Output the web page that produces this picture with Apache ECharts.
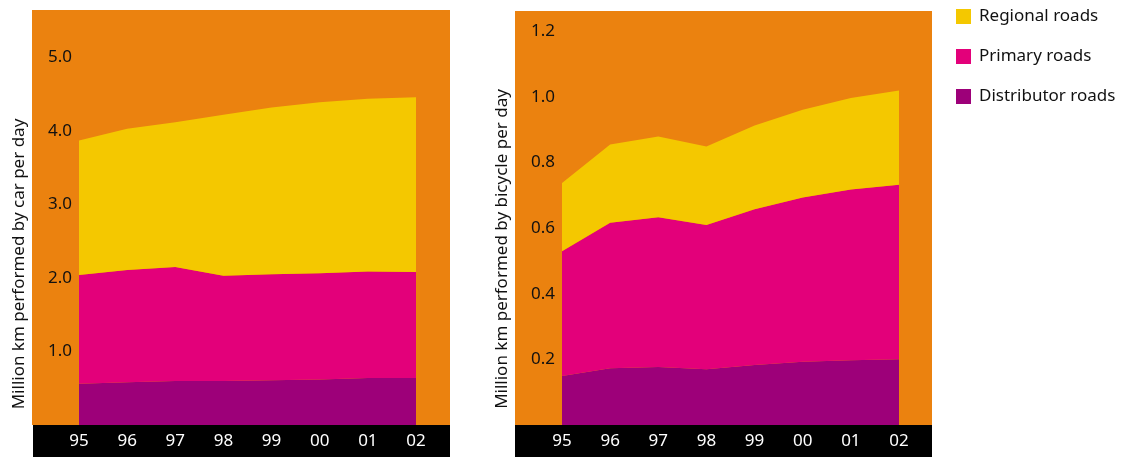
<!DOCTYPE html>
<html>
<head>
<meta charset="utf-8">
<script src="https://cdn.jsdelivr.net/npm/echarts@6/dist/echarts.min.js"></script>
<style>
  html, body { margin: 0; padding: 0; background: #fff; }
  #chart { width: 1132px; height: 457px; }
</style>
</head>
<body>
<div id="chart"></div>
<script>
// years on the x axis
const years = ['95', '96', '97', '98', '99', '00', '01', '02'];

// car (million km per day)
const carDistributor = [0.56, 0.58, 0.60, 0.60, 0.61, 0.62, 0.64, 0.64];
const carPrimary     = [1.48, 1.53, 1.55, 1.43, 1.44, 1.445, 1.45, 1.44];
const carRegional    = [1.83, 1.92, 1.97, 2.19, 2.27, 2.325, 2.35, 2.38];

// bicycle (million km per day)
const bikeDistributor = [0.149, 0.173, 0.177, 0.170, 0.183, 0.193, 0.197, 0.200];
const bikePrimary     = [0.380, 0.443, 0.456, 0.439, 0.474, 0.500, 0.520, 0.532];
const bikeRegional    = [0.208, 0.238, 0.246, 0.239, 0.255, 0.267, 0.279, 0.287];

const legendNames = ['Regional roads', 'Primary roads', 'Distributor roads'];

const ORANGE = '#EB820F';
const colors = {
  'Regional roads': '#F4C800',
  'Primary roads': '#E3007A',
  'Distributor roads': '#9D0079'
};
const FONT = 'Noto Sans';

var chartDom = document.getElementById('chart');
var myChart = echarts.init(chartDom);

function areaSeries(name, data, idx) {
  return {
    name: name,
    type: 'line',
    stack: 'total' + idx,
    xAxisIndex: idx,
    yAxisIndex: idx,
    data: data,
    showSymbol: false,
    symbol: 'none',
    color: colors[name],
    lineStyle: { width: 0 },
    areaStyle: { color: colors[name], opacity: 1 },
    silent: true
  };
}

function xAxisCfg(idx) {
  return {
    type: 'category',
    gridIndex: idx,
    data: years,
    boundaryGap: false,
    axisLine: { show: false },
    axisTick: { show: false },
    splitLine: { show: false },
    axisLabel: { color: '#fff', fontSize: 17, fontFamily: FONT, margin: 8 }
  };
}

function yAxisCfg(idx, max, interval, name, shift) {
  return {
    type: 'value',
    gridIndex: idx,
    min: 0,
    max: max,
    interval: interval,
    name: name,
    nameLocation: 'middle',
    nameGap: 51,
    nameTextStyle: { color: '#111', fontSize: 17, fontFamily: FONT, padding: [0, shift, 0, 0] },
    axisLine: { show: false },
    axisTick: { show: false },
    splitLine: { show: false },
    axisLabel: {
      color: '#111', fontSize: 17, fontFamily: FONT, margin: 7,
      formatter: function (v) {
        let k = Math.round(v / interval);
        if (k <= 0 || Math.abs(k * interval - v) > 1e-6) return '';
        return v.toFixed(1);
      }
    }
  };
}

var option = {
  backgroundColor: '#fff',
  animation: false,
  graphic: [
    { type: 'rect', z: -10, silent: true, shape: { x: 32, y: 10, width: 418, height: 415 }, style: { fill: ORANGE } },
    { type: 'rect', z: -10, silent: true, shape: { x: 33, y: 425, width: 417, height: 32 }, style: { fill: '#000' } },
    { type: 'rect', z: -10, silent: true, shape: { x: 515, y: 11, width: 417, height: 414 }, style: { fill: ORANGE } },
    { type: 'rect', z: -10, silent: true, shape: { x: 515, y: 425, width: 417, height: 32 }, style: { fill: '#000' } }
  ],
  legend: {
    data: legendNames,
    orient: 'vertical',
    left: 956,
    top: 8,
    padding: 0,
    itemWidth: 15,
    itemHeight: 15,
    itemGap: 23,
    icon: 'rect',
    selectedMode: false,
    textStyle: { color: '#111', fontSize: 17, fontFamily: FONT, padding: [0, 0, 0, 3] }
  },
  grid: [
    { left: 79, right: 1132 - 416, top: 10, bottom: 32 },
    { left: 562, right: 1132 - 899, top: 11, bottom: 32 }
  ],
  xAxis: [xAxisCfg(0), xAxisCfg(1)],
  yAxis: [
    yAxisCfg(0, 5.646, 1, 'Million km performed by car per day', 93),
    yAxisCfg(1, 1.261, 0.2, 'Million km performed by bicycle per day', 62)
  ],
  series: [
    areaSeries('Distributor roads', carDistributor, 0),
    areaSeries('Primary roads', carPrimary, 0),
    areaSeries('Regional roads', carRegional, 0),
    areaSeries('Distributor roads', bikeDistributor, 1),
    areaSeries('Primary roads', bikePrimary, 1),
    areaSeries('Regional roads', bikeRegional, 1)
  ]
};

option && myChart.setOption(option);
</script>
</body>
</html>
